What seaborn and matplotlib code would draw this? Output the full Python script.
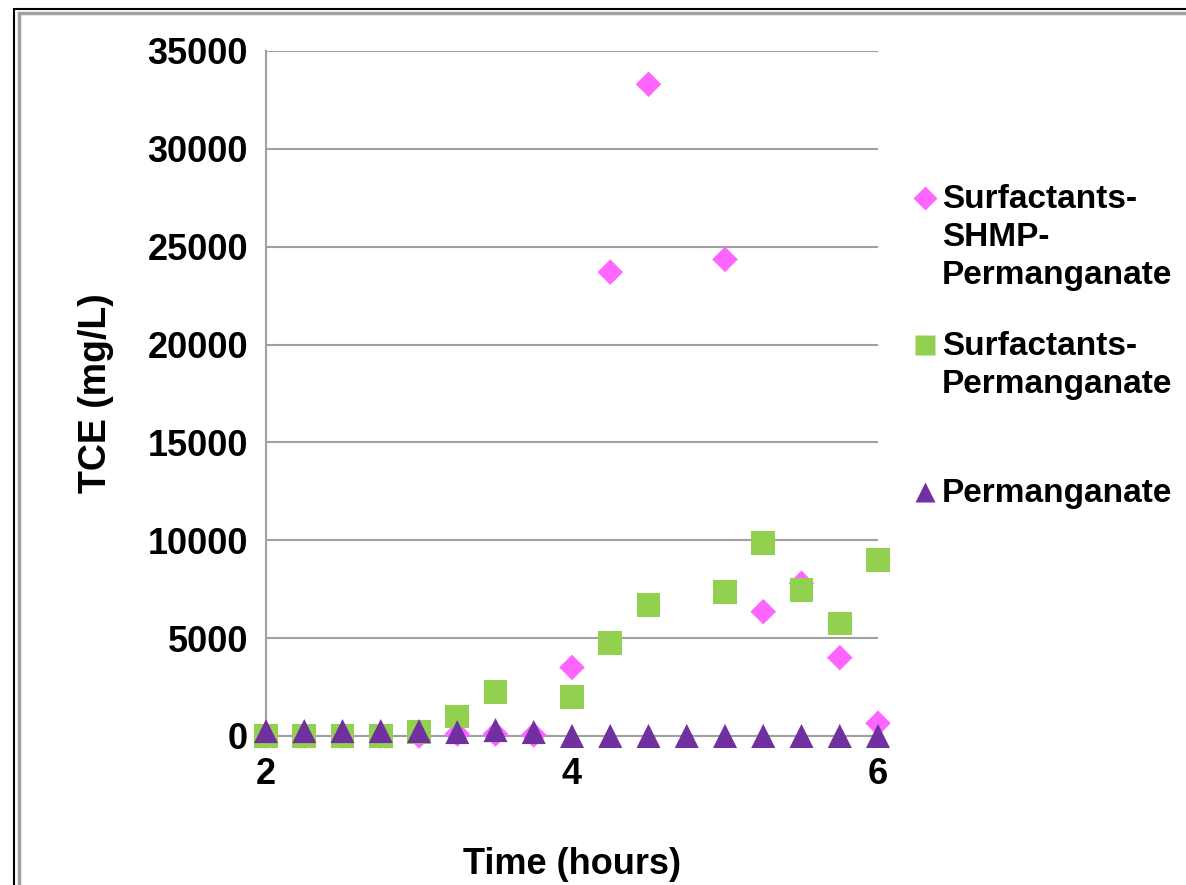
import numpy as np
import pandas as pd
import matplotlib.pyplot as plt
import seaborn as sns
from matplotlib.patches import Rectangle
from matplotlib.lines import Line2D

# readings, time in hours, TCE in mg/L
time = [2.0, 2.25, 2.5, 2.75, 3.0, 3.25, 3.5, 3.75, 4.0, 4.25, 4.5, 4.75, 5.0, 5.25, 5.5, 5.75, 6.0]
shmp = [0, 0, 0, 0, 0, 100, 100, 50, 3500, 23700, 33300, np.nan, 24350, 6350, 7800, 4000, 650]
surf = [0, 0, 0, 0, 200, 1000, 2250, np.nan, 2000, 4750, 6700, np.nan, 7350, 9850, 7450, 5750, 9000]
perm = [250, 250, 250, 250, 250, 200, 300, 200, 0, 0, 0, 0, 0, 0, 0, 0, 0]

labels = ["Surfactants-\nSHMP-\nPermanganate", "Surfactants-\nPermanganate", "Permanganate"]
colors = ["#FF66FF", "#92D050", "#7030A0"]
markers = ["D", "s", "^"]
sizes = [170, 290, 300]

df = pd.concat([
    pd.DataFrame({"time": time, "tce": vals, "series": lab})
    for vals, lab in zip([shmp, surf, perm], labels)
]).dropna()

sns.set_style("white")
plt.rcParams["font.family"] = ["Liberation Sans", "DejaVu Sans"]
plt.rcParams["font.weight"] = "bold"
plt.rcParams["text.color"] = "black"
plt.rcParams["axes.labelcolor"] = "black"

fig = plt.figure(figsize=(11.86, 8.85), dpi=100)
ax = fig.add_axes([0.2243, 0.1684, 0.516, 0.774])

sns.scatterplot(data=df, x="time", y="tce", hue="series", style="series", size="series",
                palette=colors, markers=markers, sizes=dict(zip(labels, sizes)),
                hue_order=labels, style_order=labels, size_order=labels,
                edgecolor="none", ax=ax, clip_on=False, zorder=3, legend=False)

ax.set_xlim(2, 6)
ax.set_ylim(0, 35000)
ax.set_xticks([2, 4, 6])
ax.set_yticks(range(0, 35001, 5000))
ax.yaxis.grid(True, color="#A0A0A0", lw=1.5)
ax.set_axisbelow(True)
for s in ["top", "right"]:
    ax.spines[s].set_visible(False)
for s in ["left", "bottom"]:
    ax.spines[s].set_color("#A0A0A0")
    ax.spines[s].set_linewidth(1.5)
ax.tick_params(axis="both", length=7, width=1.5, color="#A0A0A0",
               labelcolor="black", labelsize=26, pad=6)
ax.tick_params(axis="x", pad=8)
ax.set_xlabel("Time (hours)", fontsize=26, fontweight="bold", labelpad=40)
ax.set_ylabel("TCE (mg/L)", fontsize=27, fontweight="bold", labelpad=24)

# legend, Excel style: marker sits on the first line of each label
leg_y = [198, 345, 492]
for lab, col, mk, y in zip(labels, colors, markers, leg_y):
    fy = 1 - y / 885
    fig.add_artist(Line2D([925 / 1186], [fy], marker=mk, color=col, ms=12 if mk == "D" else 14,
                          ls="none", mec="none", transform=fig.transFigure))
    fig.text(942 / 1186, fy + 14 / 885, lab, fontsize=24, fontweight="bold",
             va="top", ha="left", linespacing=1.3)

# screenshot frame
fig.patches.append(Rectangle((14 / 1186, -0.1), 1.2, (885 - 9) / 885 + 0.1,
                             transform=fig.transFigure, fill=False, ec="black", lw=1.5))
fig.patches.append(Rectangle((18.5 / 1186, -0.1), 1.2, (885 - 13) / 885 + 0.1,
                             transform=fig.transFigure, fill=False, ec="#A0A0A0", lw=2.5))

fig.savefig("out.png", dpi=100)
